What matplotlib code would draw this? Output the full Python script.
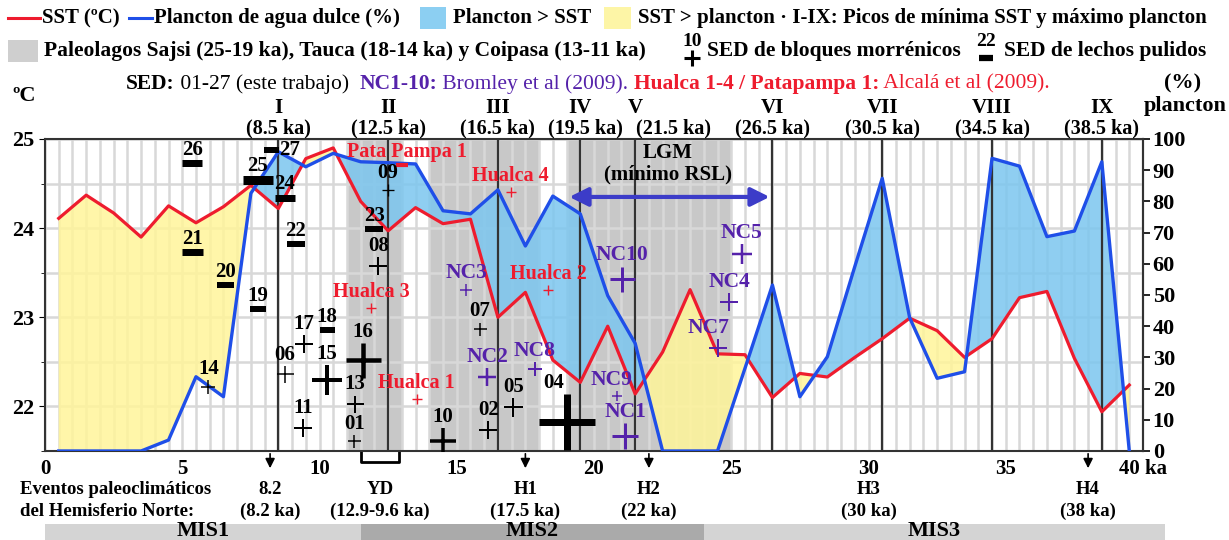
import matplotlib
matplotlib.use('Agg')
import matplotlib.pyplot as plt
import matplotlib.transforms as mtransforms
from matplotlib.lines import Line2D
from matplotlib.patches import Rectangle

plt.rcParams['font.family'] = ['Liberation Serif', 'DejaVu Serif']
plt.rcParams['font.weight'] = 'bold'

# --- datos ---
edad = [0.5, 1.5, 2.5, 3.5, 4.5, 5.5, 6.5, 7.5, 8.5, 9.5, 10.5, 11.5, 12.5, 13.5,
        14.5, 15.5, 16.5, 17.5, 18.5, 19.5, 20.5, 21.5, 22.5, 23.5, 24.5, 25.5, 26.5,
        27.5, 28.5, 29.5, 30.5, 31.5, 32.5, 33.5, 34.5, 35.5, 36.5, 37.5, 38.5, 39.5]
sst = [24.11, 24.37, 24.17, 23.90, 24.25, 24.06, 24.24, 24.48, 24.22, 24.78, 24.90,
       24.30, 23.97, 24.23, 24.05, 24.10, 23.00, 23.28, 22.52, 22.27, 22.90, 22.14,
       22.61, 23.31, 22.59, 22.58, 22.10, 22.37, 22.33, 22.55, 22.76, 22.99, 22.85,
       22.55, 22.76, 23.22, 23.29, 22.54, 21.94, 22.24]
plancton = [0, 0, 0, 0, 3.5, 23.8, 17.4, 82.6, 95.9, 91.1, 95.4, 92.7, 92.4, 92.0,
            77.0, 76.0, 83.7, 65.7, 81.7, 76.0, 49.8, 34.5, 0, 0, 0, 26.5, 53.2,
            17.4, 30.2, 59.1, 87.4, 42.7, 23.3, 25.4, 93.8, 91.3, 68.7, 70.5, 92.7, 0]

picos = [8.5, 12.5, 16.5, 19.5, 21.5, 26.5, 30.5, 34.5, 38.5]
picos_lab = ['I', 'II', 'III', 'IV', 'V', 'VI', 'VII', 'VIII', 'IX']

paleolagos = [(11, 13), (14, 18), (19, 25)]

# SED de bloques morrénicos (+)
bloques_lab = ['14', '06', '17', '15', '11', '16', '13', '01', '08', '09', '10', '02', '05', '07', '04']
bloques_x = [5.95, 8.74, 9.44, 10.26, 9.39, 11.57, 11.29, 11.27, 12.14, 12.48, 14.49, 16.15, 17.06, 15.85, 19.03]
bloques_y = [22.22, 22.36, 22.70, 22.30, 21.76, 22.52, 22.03, 21.61, 23.57, 24.43, 21.61, 21.73, 21.99, 22.87, 21.83]

# SED de lechos pulidos (-)
lechos_lab = ['26', '25', '27', '24', '21', '20', '19', '22', '18', '23']
lechos_x = [5.37, 7.75, 8.22, 8.74, 5.37, 6.57, 7.77, 9.14, 10.26, 12.0]
lechos_y = [24.73, 24.54, 24.88, 24.34, 23.73, 23.36, 23.09, 23.82, 22.86, 23.99]

# Bromley et al (2009)
nc_lab = ['NC1', 'NC2', 'NC3', 'NC4', 'NC5', 'NC7', 'NC8', 'NC9', 'NC10']
nc_x = [21.13, 16.11, 15.34, 24.92, 25.38, 24.50, 17.85, 20.85, 21.03]
nc_y = [21.67, 22.33, 23.31, 23.17, 23.71, 22.65, 22.42, 22.12, 23.43]

# Alcalá et al (2009)
hualca_lab = ['Hualca 1', 'Hualca 2', 'Hualca 3', 'Hualca 4']
hualca_x = [13.54, 18.33, 11.88, 16.96]
hualca_y = [22.08, 23.31, 23.10, 24.41]
patapampa_x, patapampa_y = 13.0, 24.71

eventos = ['8.2', 'YD', 'H1', 'H2', 'H3', 'H4']
eventos_edad = ['(8.2 ka)', '(12.9-9.6 ka)', '(17.5 ka)', '(22 ka)', '(30 ka)', '(38 ka)']
eventos_x = [8.2, 12.2, 17.5, 22, 30, 38]
flechas_x = [8.2, 17.5, 22, 38]
yd = (11.5, 12.9)

mis_lab = ['MIS1', 'MIS2', 'MIS3']
mis_lim = [(0, 11.5), (11.5, 24), (24, 40.8)]

# --- estilos ---
bloques_px = [14, 17, 18, 30, 18, 35, 17, 13, 18, 12, 26, 18, 19, 13, 56]
bloques_lw = [1.5, 1.5, 2, 4, 2, 4.5, 2, 1.5, 2, 1.3, 3.5, 2, 2, 1.5, 7]
lechos_w = [20, 30, 15, 20, 21, 17, 16, 18, 15, 18]
lechos_h = [7, 9, 6, 7, 7, 6, 6, 6, 6, 6]
nc_px = [26, 18, 12, 18, 20, 18, 14, 10, 25]
nc_lw = [3, 2.5, 1.5, 2, 2.5, 2, 2, 1.5, 3]
nc_dx = [0, 0, 0, 0, 0, -9, 0, -6, 0]
picos_dx = [0, 0, 0, 5, 38, 0, 0, 0, 0]

ROJO = '#ee1c2e'
AZUL = '#1f4fe8'
MORADO = '#5522aa'
FS = 15

W, H = 1229, 540
fig = plt.figure(figsize=(W / 100, H / 100), dpi=100)
L, R, T, B = 45, 1143, 139, 451
ax = fig.add_axes([L / W, 1 - B / H, (R - L) / W, (B - T) / H])


def fx(px):
    return px / W


def fy(py):
    return 1 - py / H


ax.set_xlim(0, 40)
ax.set_ylim(21.5, 25)


def c2p(c):
    return (c - 21.5) / 3.5 * 100


def p2c(p):
    return 21.5 + p * 3.5 / 100


plancton_c = [p2c(p) for p in plancton]

for a, b in paleolagos:
    ax.axvspan(a, b, color='#c8c8c8', lw=0, zorder=0.2)

ax.set_xticks(range(0, 41, 5))
ax.set_xticklabels([str(v) for v in range(0, 40, 5)] + ['40 ka'])
ax.set_xticks([v / 2 for v in range(81)], minor=True)
ax.set_yticks([22, 23, 24, 25])
ax.set_yticks([21.5 + v / 2 for v in range(8)], minor=True)
ax.set_axisbelow(True)
ax.grid(which='both', color='#d8d8d8', lw=1.8, zorder=0.5)
ax.tick_params(axis='x', which='both', length=0, pad=6, labelsize=15)
ax.tick_params(axis='y', which='major', length=4, pad=4, labelsize=16)
ax.tick_params(axis='y', which='minor', length=3)
for s in ax.spines.values():
    s.set_color('#333333')
    s.set_linewidth(1.5)

ax.fill_between(edad, sst, plancton_c, where=[p >= s for p, s in zip(plancton_c, sst)],
                interpolate=True, color='#7cc6ef', alpha=0.85, lw=0, zorder=1)
ax.fill_between(edad, sst, plancton_c, where=[p <= s for p, s in zip(plancton_c, sst)],
                interpolate=True, color='#fff59a', alpha=0.85, lw=0, zorder=1)

for x in picos:
    ax.axvline(x, color='#333333', lw=1.6, zorder=2)

ax.plot(edad, sst, color=ROJO, lw=2.3, zorder=3)
ax.plot(edad, plancton_c, color=AZUL, lw=2.4, zorder=3)

sec = ax.secondary_yaxis('right', functions=(c2p, p2c))
sec.set_yticks(range(0, 101, 10))
sec.tick_params(length=5, width=1.2, pad=2, labelsize=16)
sec.spines['right'].set_color('#333333')
sec.spines['right'].set_linewidth(1.5)


def etiqueta(txt, x, y, dy, color, size=FS, dx=0):
    ax.annotate(txt, (x, y), xytext=(dx, dy), textcoords='offset pixels',
                ha='center', va='bottom', color=color, fontsize=size,
                fontweight='bold', zorder=6)


for lab, x, y, s, w in zip(bloques_lab, bloques_x, bloques_y, bloques_px, bloques_lw):
    ax.plot(x, y, marker='+', ms=s * 0.72, mew=w * 0.72, color='black', zorder=5)
    etiqueta(lab, x, y, s / 2 + 1, 'black', dx=-14 if lab == '04' else 0)

for lab, x, y, w, h in zip(lechos_lab, lechos_x, lechos_y, lechos_w, lechos_h):
    ax.plot(x, y, marker='_', ms=w * 0.72, mew=h * 0.72, color='black', zorder=5)
    if lab == '27':
        ax.annotate(lab, (x, y), xytext=(w / 2 + 1, 0), textcoords='offset pixels',
                    ha='left', va='center', fontsize=FS, fontweight='bold', zorder=6)
    else:
        etiqueta(lab, x, y, h / 2, 'black')

for lab, x, y, s, w, dx in zip(nc_lab, nc_x, nc_y, nc_px, nc_lw, nc_dx):
    ax.plot(x, y, marker='+', ms=s * 0.72, mew=w * 0.72, color=MORADO, zorder=5)
    etiqueta(lab, x, y, s / 2 + 1, MORADO, size=15.5, dx=dx)

for lab, x, y in zip(hualca_lab, hualca_x, hualca_y):
    ax.plot(x, y, marker='+', ms=7, mew=1, color=ROJO, zorder=5)
    etiqueta(lab, x, y, 6, ROJO, size=14.5)
ax.plot(patapampa_x, patapampa_y, marker='_', ms=8, mew=3, color=ROJO, zorder=5)
etiqueta('Pata Pampa 1', patapampa_x, patapampa_y, 3, ROJO, size=14.5, dx=5)

# LGM
ax.annotate('', xy=(19.0, 24.35), xytext=(26.5, 24.35),
            arrowprops=dict(arrowstyle='<|-|>', color='#3c3cc8', lw=3, mutation_scale=28),
            zorder=6)
ax.text(22.7, 24.72, 'LGM\n(mínimo RSL)', ha='center', va='center', fontsize=FS,
        linespacing=1.1, zorder=6)

# picos I-IX
tr_top = mtransforms.blended_transform_factory(ax.transData, fig.transFigure)
for x, lab, dx in zip(picos, picos_lab, picos_dx):
    ax.text(x, fy(108), lab, transform=tr_top, ha='center', va='center', fontsize=FS)
    ax.annotate('(%s ka)' % ('%g' % x), (x, fy(128)), xycoords=tr_top,
                xytext=(dx, 0), textcoords='offset pixels',
                ha='center', va='center', fontsize=14.5)

# eventos del Hemisferio Norte
for x in flechas_x:
    ax.annotate('', xy=(x, fy(471)), xytext=(x, fy(451)), xycoords=tr_top,
                textcoords=tr_top,
                arrowprops=dict(arrowstyle='-|>', color='black', lw=1.2, mutation_scale=14))
ax.add_line(Line2D([yd[0], yd[0], yd[1], yd[1]], [fy(451), fy(462), fy(462), fy(451)],
                   transform=tr_top, color='black', lw=2, clip_on=False))
for x, a, b in zip(eventos_x, eventos, eventos_edad):
    ax.text(x, fy(490), a, transform=tr_top, ha='center', va='center', fontsize=13.5)
    ax.text(x, fy(511), b, transform=tr_top, ha='center', va='center', fontsize=13.5)
fig.text(fx(20), fy(490), 'Eventos paleoclimáticos', ha='left', va='center', fontsize=13.5)
fig.text(fx(20), fy(511), 'del Hemisferio Norte:', ha='left', va='center', fontsize=13.5)

# MIS
for lab, (a, b), c in zip(mis_lab, mis_lim, ['#d4d4d4', '#aaaaaa', '#d4d4d4']):
    ax.add_patch(Rectangle((a, fy(540)), b - a, fy(524) - fy(540), transform=tr_top,
                           color=c, lw=0, clip_on=False))
    ax.text((a + b) / 2, fy(531), lab, transform=tr_top, ha='center', va='center',
            fontsize=16)

# ejes
fig.text(fx(24), fy(96), 'ºC', ha='center', va='center', fontsize=16)
fig.text(fx(1183), fy(83), '(%)', ha='center', va='center', fontsize=16)
fig.text(fx(1185), fy(106), 'plancton', ha='center', va='center', fontsize=16)

# --- leyenda ---
fig.canvas.draw()
rend = fig.canvas.get_renderer()


def cadena(x, y, piezas, size=FS):
    for txt, color, weight in piezas:
        t = fig.text(fx(x), fy(y), txt, ha='left', va='center', color=color,
                     fontsize=size, fontweight=weight)
        x += t.get_window_extent(rend).width
    return x


def linea(x0, x1, y, color):
    fig.add_artist(Line2D([fx(x0), fx(x1)], [fy(y), fy(y)], color=color, lw=2.2))


def parche(x0, x1, y0, y1, color):
    fig.add_artist(Rectangle((fx(x0), fy(y1)), fx(x1) - fx(x0), fy(y0) - fy(y1),
                             color=color, lw=0, transform=fig.transFigure))


linea(8, 40, 18, ROJO)
cadena(42, 18, [('SST (ºC)', 'black', 'bold')])
linea(129, 152, 18, AZUL)
cadena(154, 18, [('Plancton de agua dulce (%)', 'black', 'bold')])
parche(420, 446, 7, 29, '#8ccff2')
cadena(453, 18, [('Plancton > SST', 'black', 'bold')])
parche(604, 631, 7, 29, '#fdf5a6')
cadena(638, 18, [('SST > plancton · I-IX: Picos de mínima SST y máximo plancton', 'black', 'bold')])

parche(8, 38, 40, 62, '#cfcfcf')
cadena(44, 51, [('Paleolagos Sajsi (25-19 ka), Tauca (18-14 ka) y Coipasa (13-11 ka)', 'black', 'bold')], size=15.5)
fig.text(fx(692), fy(42), '10', ha='center', va='center', fontsize=14)
fig.add_artist(Line2D([fx(692)], [fy(58)], marker='+', ms=12, mew=2.2, color='black'))
cadena(707, 51, [('SED de bloques morrénicos', 'black', 'bold')], size=15.5)
fig.text(fx(986), fy(42), '22', ha='center', va='center', fontsize=14)
fig.add_artist(Line2D([fx(986)], [fy(58)], marker='_', ms=10, mew=4.5, color='black'))
cadena(1004, 51, [('SED de lechos pulidos', 'black', 'bold')], size=15.5)

cadena(126, 84, [('SED:', 'black', 'bold'), (' 01-27 (este trabajo)  ', 'black', 'normal'),
                 ('NC1-10:', MORADO, 'bold'), (' Bromley et al (2009). ', MORADO, 'normal'),
                 ('Hualca 1-4 / Patapampa 1:', ROJO, 'bold'),
                 (' Alcalá et al (2009).', ROJO, 'normal')], size=15.5)

fig.savefig('out.png', dpi=100)
